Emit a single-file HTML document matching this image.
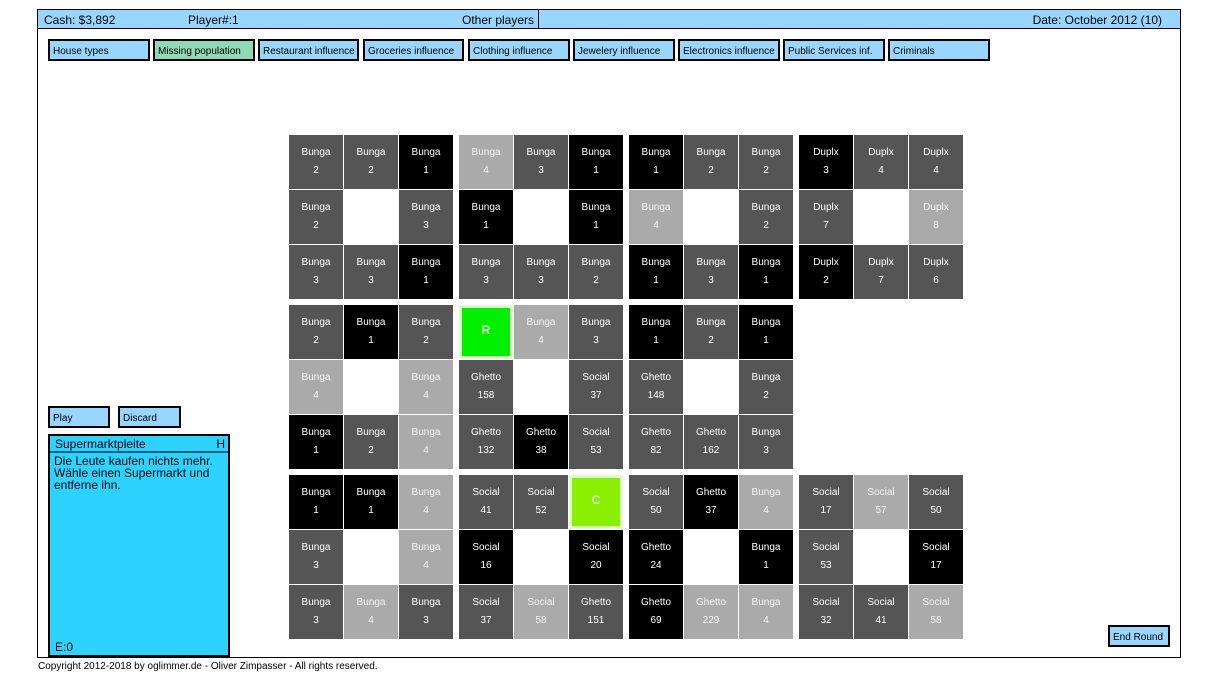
<!DOCTYPE html>
<html><head><meta charset="utf-8">
<style>
body{margin:0;width:1226px;height:681px;background:#fff;font-family:"Liberation Sans",Arial,sans-serif;position:relative;overflow:hidden}
.abs{position:absolute;box-sizing:border-box}
.btn{position:absolute;box-sizing:border-box;border:2px solid #000;background:#99d6ff;font-size:10px;padding:5px 0 0 3px;height:22px}
.cell{position:absolute;width:54px;height:54px;color:#fff;font-size:10px;text-align:center;box-sizing:border-box}
.cell .a{position:absolute;top:12px;left:0;right:0}
.cell .b{position:absolute;top:30px;left:0;right:0}
</style></head><body>
<div class="abs" style="left:37px;top:9px;width:1144px;height:649px;border:1px solid #000"></div>
<div class="abs" style="left:37px;top:9px;width:502px;height:20px;border:1px solid #000;background:#99d6ff;font-size:12px">
 <span class="abs" style="left:6px;top:3px">Cash: $3,892</span>
 <span class="abs" style="left:150px;top:3px">Player#:1</span>
 <span class="abs" style="left:424px;top:3px">Other players</span>
</div>
<div class="abs" style="left:538px;top:9px;width:643px;height:20px;border:1px solid #000;background:#99d6ff;font-size:12px">
 <span class="abs" style="right:18px;top:3px">Date: October 2012 (10)</span>
</div>
<div class="btn" style="left:48px;top:39px;width:102px">House types</div>
<div class="btn" style="left:153px;top:39px;width:102px;background:#8fd9b6">Missing population</div>
<div class="btn" style="left:258px;top:39px;width:101px">Restaurant influence</div>
<div class="btn" style="left:363px;top:39px;width:101px">Groceries influence</div>
<div class="btn" style="left:468px;top:39px;width:102px">Clothing influence</div>
<div class="btn" style="left:573px;top:39px;width:102px">Jewelery influence</div>
<div class="btn" style="left:678px;top:39px;width:102px">Electronics influence</div>
<div class="btn" style="left:783px;top:39px;width:102px">Public Services inf.</div>
<div class="btn" style="left:888px;top:39px;width:102px">Criminals</div>

<div class="btn" style="left:48px;top:406px;width:62px">Play</div>
<div class="btn" style="left:118px;top:406px;width:63px">Discard</div>
<div class="abs" style="left:48px;top:434px;width:182px;height:223px;border:2px solid #000;background:#2dd2ff">
 <div class="abs" style="left:0;top:0;width:178px;height:17px;border-bottom:2px solid #0a5f80;font-size:12px;padding:1px 0 0 5px">Supermarktpleite<span style="position:absolute;right:3px;top:1px">H</span></div>
 <div class="abs" style="left:4px;top:19px;width:172px;font-size:12px;line-height:12px">Die Leute kaufen nichts mehr. Wähle einen Supermarkt und entferne ihn.</div>
 <div class="abs" style="left:5px;top:204px;font-size:12px">E:0</div>
</div>
<div class="btn" style="left:1108px;top:625px;width:62px">End Round</div>
<div class="abs" style="left:38px;top:661px;font-size:10px">Copyright 2012-2018 by oglimmer.de - Oliver Zimpasser - All rights reserved.</div>

<div id="grid"></div>
<script>
// D=dark, B=black, L=light, W=empty, N=none, R/C special
const rowLabels=[
["Bunga","Bunga","Bunga","Bunga","Bunga","Bunga","Bunga","Bunga","Bunga","Duplx","Duplx","Duplx"],
["Bunga","","Bunga","Bunga","","Bunga","Bunga","","Bunga","Duplx","","Duplx"],
["Bunga","Bunga","Bunga","Bunga","Bunga","Bunga","Bunga","Bunga","Bunga","Duplx","Duplx","Duplx"],
["Bunga","Bunga","Bunga","R","Bunga","Bunga","Bunga","Bunga","Bunga","","",""],
["Bunga","","Bunga","Ghetto","","Social","Ghetto","","Bunga","","",""],
["Bunga","Bunga","Bunga","Ghetto","Ghetto","Social","Ghetto","Ghetto","Bunga","","",""],
["Bunga","Bunga","Bunga","Social","Social","C","Social","Ghetto","Bunga","Social","Social","Social"],
["Bunga","","Bunga","Social","","Social","Ghetto","","Bunga","Social","","Social"],
["Bunga","Bunga","Bunga","Social","Social","Ghetto","Ghetto","Ghetto","Bunga","Social","Social","Social"]];
const rowValues=[
[2,2,1,4,3,1,1,2,2,3,4,4],
[2,null,3,1,null,1,4,null,2,7,null,8],
[3,3,1,3,3,2,1,3,1,2,7,6],
[2,1,2,null,4,3,1,2,1,null,null,null],
[4,null,4,158,null,37,148,null,2,null,null,null],
[1,2,4,132,38,53,82,162,3,null,null,null],
[1,1,4,41,52,null,50,37,4,17,57,50],
[3,null,4,16,null,20,24,null,1,53,null,17],
[3,4,3,37,58,151,69,229,4,32,41,58]];
const rowShades=[
"DDBLDBBDDBDD","DWDBWBLWDDWL","DDBDDDBDBBDD","DBDRLDBDBNNN","LWLDWDDWDNNN","BDLDBDDDDNNN","BBLDDCDBLDLD","DWLBWBBWBDWB","DLDDLDBLLDDL"];
const colors={D:"#555",B:"#000",L:"#aaa",R:"#00f000",C:"#88f000"};
const g=document.getElementById('grid');
function xPos(c){return 289+c*55+Math.floor(c/3)*5;}
function yPos(r){return 135+r*55+Math.floor(r/3)*5;}
for(let r=0;r<9;r++)for(let c=0;c<12;c++){
 const s=rowShades[r][c]; if(s==='N'||s==='W')continue;
 const el=document.createElement('div');
 
 
 el.className='cell';
 el.style.left=xPos(c)+'px';el.style.top=yPos(r)+'px';el.style.background=colors[s];
 if(s==='R'||s==='C'){el.style.border='3px solid #ddffcc';el.style.color='#ddffcc';el.style.fontSize='12px';el.style.fontWeight='bold';
  el.innerHTML='<div style="position:absolute;top:15px;left:0;right:0">'+rowLabels[r][c]+'</div>';}
 else{ if(s==='L')el.style.color='#f4f4f4';
  el.innerHTML='<div class="a">'+rowLabels[r][c]+'</div><div class="b">'+rowValues[r][c]+'</div>';}
 g.appendChild(el);
}
</script>
</body></html>
